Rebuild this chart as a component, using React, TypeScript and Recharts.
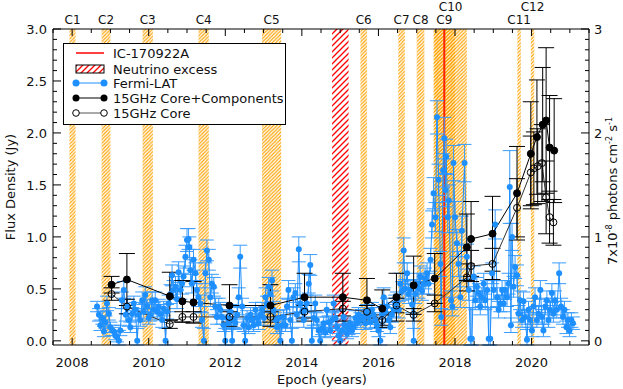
import React from "react"
import { ComposedChart, Line, XAxis, YAxis, ErrorBar, ReferenceArea, ReferenceLine } from "recharts"

const FONT = "'DejaVu Sans', 'Liberation Sans', sans-serif"
const BLUE = "#1e8fff"
const ORANGE = "#ffa200"
const Y_MIN = -0.04

// Fermi-LAT light curve: [epoch, flux (7e-8 ph cm^-2 s^-1), error]
const fermiRaw: [number, number, number][] = [
  [2008.65, 0.33, 0.05], [2008.70, 0.25, 0.06], [2008.74, 0.15, 0.05], [2008.79, 0.22, 0.06],
  [2008.83, 0.09, 0.05], [2008.87, 0.18, 0.06], [2008.91, 0.36, 0.07], [2008.96, 0.26, 0.06],
  [2009.00, 0.13, 0.05], [2009.05, 0.10, 0.05], [2009.09, 0.09, 0.04], [2009.13, 0.05, 0.04],
  [2009.17, 0.04, 0.05], [2009.22, 0.00, 0.10], [2009.26, 0.10, 0.05], [2009.30, 0.39, 0.08],
  [2009.35, 0.49, 0.08], [2009.40, 0.25, 0.06], [2009.44, 0.33, 0.07], [2009.48, 0.20, 0.06],
  [2009.52, 0.13, 0.05], [2009.57, 0.26, 0.06], [2009.61, 0.36, 0.07], [2009.65, 0.30, 0.07],
  [2009.70, 0.00, 0.12], [2009.74, 0.25, 0.06], [2009.78, 0.20, 0.06], [2009.83, 0.39, 0.08],
  [2009.87, 0.28, 0.07], [2009.91, 0.44, 0.08], [2009.96, 0.33, 0.07], [2010.00, 0.22, 0.06],
  [2010.04, 0.25, 0.06], [2010.09, 0.39, 0.08], [2010.13, 0.30, 0.07], [2010.17, 0.39, 0.08],
  [2010.22, 0.28, 0.07], [2010.26, 0.33, 0.07], [2010.30, 0.26, 0.06], [2010.35, 0.20, 0.07],
  [2010.39, 0.31, 0.07], [2010.44, 0.00, 0.12], [2010.48, 0.28, 0.07], [2010.52, 0.36, 0.08],
  [2010.57, 0.45, 0.09], [2010.61, 0.63, 0.10], [2010.65, 0.49, 0.09], [2010.70, 0.52, 0.10],
  [2010.74, 0.40, 0.09], [2010.78, 0.66, 0.10], [2010.83, 0.49, 0.09], [2010.87, 0.55, 0.10],
  [2010.91, 0.62, 0.10], [2010.96, 0.81, 0.11], [2011.00, 0.97, 0.11], [2011.04, 0.98, 0.10],
  [2011.06, 0.90, 0.10], [2011.09, 0.68, 0.10], [2011.13, 0.55, 0.09], [2011.17, 0.78, 0.10],
  [2011.22, 0.65, 0.10], [2011.26, 0.49, 0.09], [2011.30, 0.42, 0.09], [2011.35, 0.36, 0.08],
  [2011.39, 0.20, 0.07], [2011.44, 0.00, 0.12], [2011.48, 0.65, 0.10], [2011.52, 0.87, 0.10],
  [2011.57, 0.78, 0.10], [2011.61, 0.42, 0.09], [2011.65, 0.55, 0.09], [2011.70, 0.52, 0.09],
  [2011.74, 0.33, 0.08], [2011.78, 0.23, 0.07], [2011.83, 0.33, 0.08], [2011.87, 0.30, 0.07],
  [2011.91, 0.23, 0.07], [2011.96, 0.15, 0.06], [2012.00, 0.00, 0.12], [2012.05, 0.22, 0.07],
  [2012.09, 0.17, 0.06], [2012.13, 0.28, 0.07], [2012.18, 0.00, 0.12], [2012.22, 0.20, 0.07],
  [2012.26, 0.17, 0.06], [2012.31, 0.25, 0.07], [2012.35, 0.42, 0.09], [2012.39, 0.81, 0.11],
  [2012.44, 0.33, 0.08], [2012.48, 0.15, 0.06], [2012.52, 0.00, 0.12], [2012.57, 0.22, 0.07],
  [2012.61, 0.13, 0.06], [2012.66, 0.25, 0.07], [2012.70, 0.20, 0.06], [2012.74, 0.15, 0.06],
  [2012.79, 0.30, 0.07], [2012.83, 0.22, 0.07], [2012.87, 0.17, 0.06], [2012.92, 0.25, 0.07],
  [2012.96, 0.30, 0.07], [2013.01, 0.22, 0.07], [2013.05, 0.42, 0.09], [2013.09, 0.35, 0.08],
  [2013.13, 0.52, 0.09], [2013.18, 0.45, 0.09], [2013.22, 0.58, 0.10], [2013.26, 0.30, 0.08],
  [2013.31, 0.20, 0.07], [2013.35, 0.13, 0.06], [2013.39, 0.22, 0.07], [2013.44, 0.00, 0.12],
  [2013.48, 0.15, 0.06], [2013.52, 0.23, 0.07], [2013.57, 0.15, 0.06], [2013.61, 0.33, 0.08],
  [2013.65, 0.49, 0.09], [2013.70, 0.20, 0.07], [2013.74, 0.00, 0.12], [2013.78, 0.42, 0.09],
  [2013.83, 0.46, 0.09], [2013.87, 0.25, 0.07], [2013.92, 0.88, 0.12], [2013.96, 0.36, 0.08],
  [2014.01, 0.28, 0.07], [2014.05, 0.20, 0.07], [2014.09, 0.30, 0.07], [2014.13, 0.36, 0.08],
  [2014.18, 0.55, 0.09], [2014.22, 0.73, 0.10], [2014.26, 0.00, 0.12], [2014.31, 0.22, 0.07],
  [2014.35, 0.36, 0.08], [2014.39, 0.20, 0.07], [2014.44, 0.10, 0.06], [2014.48, 0.00, 0.12],
  [2014.53, 0.12, 0.06], [2014.57, 0.17, 0.06], [2014.61, 0.08, 0.05], [2014.65, 0.30, 0.07],
  [2014.70, 0.18, 0.06], [2014.74, 0.10, 0.06], [2014.79, 0.20, 0.07], [2014.83, 0.36, 0.08],
  [2014.88, 0.22, 0.07], [2014.92, 0.13, 0.06], [2014.96, 0.05, 0.05], [2015.00, 0.00, 0.12],
  [2015.05, 0.10, 0.06], [2015.09, 0.23, 0.07], [2015.13, 0.15, 0.06], [2015.18, 0.07, 0.05],
  [2015.22, 0.12, 0.06], [2015.26, 0.17, 0.06], [2015.31, 0.10, 0.06], [2015.35, 0.13, 0.06],
  [2015.40, 0.22, 0.07], [2015.44, 0.17, 0.06], [2015.48, 0.25, 0.07], [2015.53, 0.20, 0.07],
  [2015.57, 0.23, 0.07], [2015.61, 0.23, 0.07], [2015.66, 0.17, 0.06], [2015.70, 0.28, 0.07],
  [2015.74, 0.23, 0.07], [2015.79, 0.18, 0.06], [2015.83, 0.30, 0.07], [2015.87, 0.25, 0.07],
  [2015.92, 0.20, 0.07], [2015.96, 0.15, 0.06], [2016.00, 0.10, 0.06], [2016.05, 0.00, 0.12],
  [2016.09, 0.25, 0.07], [2016.14, 0.42, 0.09], [2016.18, 0.28, 0.07], [2016.22, 0.33, 0.08],
  [2016.27, 0.20, 0.07], [2016.31, 0.13, 0.06], [2016.35, 0.25, 0.07], [2016.40, 0.30, 0.07],
  [2016.44, 0.36, 0.08], [2016.48, 0.39, 0.08], [2016.53, 0.30, 0.08], [2016.57, 0.55, 0.10],
  [2016.62, 0.48, 0.09], [2016.66, 0.87, 0.12], [2016.70, 0.50, 0.09], [2016.75, 0.65, 0.10],
  [2016.79, 0.45, 0.09], [2016.83, 0.49, 0.09], [2016.88, 0.35, 0.08], [2016.92, 0.00, 0.12],
  [2016.96, 0.45, 0.09], [2017.01, 0.55, 0.10], [2017.05, 0.50, 0.09], [2017.09, 0.62, 0.10],
  [2017.14, 0.48, 0.09], [2017.18, 0.55, 0.10], [2017.22, 0.60, 0.10], [2017.27, 0.65, 0.10],
  [2017.31, 0.55, 0.10], [2017.36, 0.78, 0.11], [2017.40, 1.12, 0.13], [2017.44, 1.42, 0.15],
  [2017.49, 1.19, 0.14], [2017.53, 2.15, 0.16], [2017.57, 1.55, 0.15], [2017.62, 0.74, 0.12],
  [2017.64, 0.23, 0.08], [2017.69, 1.64, 0.16], [2017.72, 1.95, 0.20], [2017.75, 1.45, 0.16],
  [2017.77, 1.77, 0.17], [2017.81, 1.19, 0.15], [2017.84, 1.35, 0.15], [2017.90, 0.39, 0.09],
  [2017.93, 0.33, 0.09], [2017.96, 1.71, 0.17], [2018.00, 1.19, 0.15], [2018.05, 0.94, 0.13],
  [2018.09, 0.74, 0.12], [2018.14, 0.42, 0.10], [2018.18, 1.06, 0.14], [2018.25, 1.71, 0.18],
  [2018.31, 0.81, 0.12], [2018.36, 0.49, 0.10], [2018.40, 0.02, 0.30], [2018.44, 0.02, 0.30],
  [2018.49, 0.62, 0.10], [2018.53, 0.39, 0.09], [2018.57, 0.52, 0.09], [2018.62, 0.46, 0.09],
  [2018.66, 0.33, 0.08], [2018.70, 0.42, 0.09], [2018.75, 0.55, 0.10], [2018.79, 0.39, 0.09],
  [2018.84, 0.49, 0.09], [2018.88, 0.02, 0.30], [2018.92, 0.02, 0.30], [2018.97, 0.65, 0.10],
  [2019.01, 0.49, 0.09], [2019.05, 1.12, 0.14], [2019.10, 0.42, 0.09], [2019.14, 0.30, 0.08],
  [2019.18, 0.36, 0.08], [2019.23, 0.49, 0.09], [2019.27, 0.36, 0.08], [2019.31, 0.49, 0.09],
  [2019.36, 0.42, 0.09], [2019.40, 0.55, 0.10], [2019.43, 1.48, 0.35], [2019.46, 0.15, 0.07],
  [2019.49, 1.00, 0.13], [2019.53, 0.52, 0.10], [2019.57, 0.71, 0.11], [2019.62, 0.63, 0.10],
  [2019.66, 0.26, 0.08], [2019.70, 0.39, 0.09], [2019.75, 0.20, 0.07], [2019.79, 0.38, 0.09],
  [2019.83, 0.23, 0.07], [2019.88, 0.01, 0.10], [2019.92, 0.30, 0.08], [2019.96, 0.20, 0.07],
  [2020.01, 0.10, 0.06], [2020.05, 0.33, 0.08], [2020.09, 0.42, 0.09], [2020.14, 0.20, 0.07],
  [2020.18, 0.26, 0.08], [2020.23, 0.49, 0.09], [2020.27, 0.23, 0.07], [2020.31, 0.10, 0.06],
  [2020.36, 0.33, 0.08], [2020.40, 0.39, 0.09], [2020.44, 0.20, 0.07], [2020.48, 0.30, 0.08],
  [2020.53, 0.46, 0.09], [2020.57, 0.26, 0.08], [2020.61, 0.39, 0.09], [2020.66, 0.30, 0.08],
  [2020.72, 0.65, 0.10], [2020.77, 0.33, 0.08], [2020.82, 0.23, 0.07], [2020.86, 0.30, 0.08],
  [2020.91, 0.13, 0.06], [2020.95, 0.20, 0.07], [2020.99, 0.10, 0.06], [2021.04, 0.20, 0.07],
  [2021.08, 0.17, 0.06],
]

// 15 GHz core + components: [epoch, Jy, error]
const coreCompRaw: [number, number, number][] = [
  [2009.03, 0.54, 0.08], [2009.43, 0.59, 0.25], [2010.55, 0.43, 0.23], [2010.88, 0.38, 0.20],
  [2011.17, 0.37, 0.20], [2012.11, 0.34, 0.20], [2013.18, 0.34, 0.20], [2014.07, 0.42, 0.23],
  [2015.07, 0.42, 0.23], [2015.70, 0.39, 0.21], [2016.10, 0.31, 0.18], [2016.47, 0.42, 0.23],
  [2016.92, 0.535, 0.28], [2017.47, 0.60, 0.24], [2018.31, 0.90, 0.32], [2018.42, 0.98, 0.36],
  [2018.98, 1.03, 0.36], [2019.62, 1.42, 0.45], [2019.98, 1.80, 0.50], [2020.14, 1.96, 0.55],
  [2020.29, 2.08, 0.55], [2020.38, 2.12, 0.70], [2020.47, 1.86, 0.50], [2020.59, 1.83, 0.50],
]

// 15 GHz core only: [epoch, Jy, error]
const coreRaw: [number, number, number][] = [
  [2009.03, 0.45, 0.06], [2009.43, 0.33, 0.07], [2010.55, 0.16, 0.04], [2010.88, 0.23, 0.05],
  [2011.17, 0.23, 0.05], [2012.11, 0.23, 0.05], [2013.18, 0.23, 0.05], [2014.07, 0.28, 0.06],
  [2015.07, 0.31, 0.07], [2015.70, 0.28, 0.06], [2016.10, 0.20, 0.05], [2016.47, 0.34, 0.07],
  [2016.92, 0.25, 0.06], [2017.47, 0.36, 0.08], [2018.31, 0.61, 0.13], [2018.42, 0.72, 0.15],
  [2018.98, 0.74, 0.15], [2019.62, 1.28, 0.28], [2019.98, 1.62, 0.35], [2020.06, 1.66, 0.35],
  [2020.16, 1.68, 0.36], [2020.27, 1.71, 0.37], [2020.38, 1.38, 0.35], [2020.47, 1.19, 0.25],
  [2020.57, 1.14, 0.22],
]

// ejection epochs of the jet components (hatched bands)
const bands = [
  { name: "C1", x1: 2007.93, x2: 2008.09, raised: false },
  { name: "C2", x1: 2008.77, x2: 2009.0, raised: false },
  { name: "C3", x1: 2009.84, x2: 2010.11, raised: false },
  { name: "C4", x1: 2011.3, x2: 2011.57, raised: false },
  { name: "C5", x1: 2012.96, x2: 2013.46, raised: false },
  { name: "C6", x1: 2015.53, x2: 2015.7, raised: false },
  { name: "C7", x1: 2016.52, x2: 2016.69, raised: false },
  { name: "C8", x1: 2017.0, x2: 2017.2, raised: false },
  { name: "C9", x1: 2017.44, x2: 2018.0, raised: false },
  { name: "C10", x1: 2017.46, x2: 2018.31, raised: true },
  { name: "C11", x1: 2019.63, x2: 2019.72, raised: false },
  { name: "C12", x1: 2019.98, x2: 2020.07, raised: true },
]
const neutrinoExcess = [2014.79, 2015.22]
const icEvent = 2017.72

const xMajor = [2008, 2010, 2012, 2014, 2016, 2018, 2020]
const xTicks = Array.from({ length: 29 }, (_, i) => 2007.5 + i * 0.5)
const yTicks = Array.from({ length: 31 }, (_, i) => i / 10)

// lower half of each error bar stops at the bottom of the frame, like the original plot
const toPoints = (rows: [number, number, number][]) =>
  rows.map(([x, y, e]) => ({ x, y, err: [Math.min(e, y - Y_MIN), e] }))

const fermi = toPoints(fermiRaw)
const coreComp = toPoints(coreCompRaw)
const core = toPoints(coreRaw)

const isMajorX = (v: number) => xMajor.includes(v)
const isMajorLeft = (v: number) => Math.round(v * 10) % 5 === 0
const isMajorRight = (v: number) => Math.round(v * 10) % 10 === 0

const txt = { fontFamily: FONT, fontSize: 13, fill: "#111" }

const BottomTick = ({ x, y, payload }: any) => {
  const major = isMajorX(payload.value)
  return (
    <g>
      <line x1={x} x2={x} y1={y} y2={y - (major ? 7 : 4)} stroke="#000" />
      {major && (
        <text x={x} y={y + 22} textAnchor="middle" {...txt}>
          {payload.value}
        </text>
      )}
    </g>
  )
}

const TopTick = ({ x, y, payload }: any) => {
  const major = isMajorX(payload.value)
  return <line x1={x} x2={x} y1={y} y2={y + (major ? 7 : 4)} stroke="#000" />
}

const LeftTick = ({ x, y, payload }: any) => {
  const major = isMajorLeft(payload.value)
  return (
    <g>
      <line x1={x} x2={x + (major ? 8 : 4)} y1={y} y2={y} stroke="#000" />
      {major && (
        <text x={x - 6} y={y + 5} textAnchor="end" {...txt}>
          {payload.value.toFixed(1)}
        </text>
      )}
    </g>
  )
}

const RightTick = ({ x, y, payload }: any) => {
  const major = isMajorRight(payload.value)
  return (
    <g>
      <line x1={x} x2={x - (major ? 8 : 4)} y1={y} y2={y} stroke="#000" />
      {major && (
        <text x={x + 5} y={y + 5} textAnchor="start" {...txt}>
          {Math.round(payload.value)}
        </text>
      )}
    </g>
  )
}

const bandLabel = (name: string, raised: boolean) => (props: any) => {
  const vb = props.viewBox || {}
  return (
    <text x={vb.x + vb.width / 2} y={vb.y - (raised ? 18 : 5.5)} textAnchor="middle" fontFamily={FONT} fontSize={12} fill="#111">
      {name}
    </text>
  )
}

const leftTitle = () => (
  <text x={14.5} y={187} transform="rotate(-90 14.5 187)" textAnchor="middle" {...txt}>
    Flux Density (Jy)
  </text>
)

const rightTitle = () => (
  <text x={617} y={191} transform="rotate(-90 617 191)" textAnchor="middle" {...txt}>
    7x10
    <tspan dy={-5} fontSize={8}>-8</tspan>
    <tspan dy={5}> photons cm</tspan>
    <tspan dy={-5} fontSize={8}>-2</tspan>
    <tspan dy={5}> s</tspan>
    <tspan dy={-5} fontSize={8}>-1</tspan>
  </text>
)

const bottomTitle = () => (
  <text x={322} y={384} textAnchor="middle" {...txt}>
    Epoch (years)
  </text>
)

function ChartLegend() {
  const rows = [10, 26, 40, 55, 70]
  return (
    <svg width={223} height={82} style={{ position: "absolute", left: 63, top: 43 }}>
      <defs>
        <pattern id="legendRed" width={6} height={6} patternUnits="userSpaceOnUse">
          <path d="M-1,1 l2,-2 M0,6 l6,-6 M5,7 l2,-2" stroke="#ff0000" strokeWidth={1.3} />
        </pattern>
      </defs>
      <rect x={0.5} y={0.5} width={222} height={81} fill="#fff" stroke="#000" />
      <line x1={13} x2={41} y1={rows[0]} y2={rows[0]} stroke="#ff0000" strokeWidth={1.5} />
      <rect x={13} y={rows[1] - 4} width={28} height={8} fill="url(#legendRed)" stroke="#000" />
      <line x1={13} x2={41} y1={rows[2]} y2={rows[2]} stroke={BLUE} />
      <circle cx={13} cy={rows[2]} r={3.5} fill={BLUE} />
      <circle cx={41} cy={rows[2]} r={3.5} fill={BLUE} />
      <line x1={13} x2={41} y1={rows[3]} y2={rows[3]} stroke="#000" />
      <circle cx={13} cy={rows[3]} r={3.5} fill="#000" />
      <circle cx={41} cy={rows[3]} r={3.5} fill="#000" />
      <line x1={13} x2={41} y1={rows[4]} y2={rows[4]} stroke="#555" />
      <circle cx={13} cy={rows[4]} r={3.3} fill="#fff" stroke="#000" />
      <circle cx={41} cy={rows[4]} r={3.3} fill="#fff" stroke="#000" />
      {["IC-170922A", "Neutrino excess", "Fermi-LAT", "15GHz Core+Components", "15GHz Core"].map((t, i) => (
        <text key={t} x={50} y={rows[i] + 5} {...txt}>
          {t}
        </text>
      ))}
    </svg>
  )
}

export default function App() {
  return (
    <div style={{ position: "absolute", left: 0, top: 0, width: 623, height: 389, background: "#fff" }}>
      <ComposedChart width={623} height={389} margin={{ top: 0, right: 0, bottom: 0, left: 0 }}>
        <defs>
          <pattern id="hatchOrange" width={3.5} height={3.5} patternUnits="userSpaceOnUse">
            <path d="M-0.875,0.875 l1.75,-1.75 M0,3.5 l3.5,-3.5 M2.625,4.375 l1.75,-1.75" stroke={ORANGE} strokeWidth={1.1} />
          </pattern>
          <pattern id="hatchRed" width={6} height={6} patternUnits="userSpaceOnUse">
            <path d="M-1,1 l2,-2 M0,6 l6,-6 M5,7 l2,-2" stroke="#ff0000" strokeWidth={1.3} />
          </pattern>
        </defs>
        <XAxis
          xAxisId="bottom"
          dataKey="x"
          type="number"
          domain={[2007.5, 2021.5]}
          ticks={xTicks}
          interval={0}
          height={44}
          tickSize={0}
          tickMargin={0}
          tickLine={false}
          tick={BottomTick}
          axisLine={{ stroke: "#000" }}
          allowDataOverflow
          label={bottomTitle}
        />
        <XAxis
          xAxisId="top"
          orientation="top"
          dataKey="x"
          type="number"
          domain={[2007.5, 2021.5]}
          ticks={xTicks}
          interval={0}
          height={29}
          tickSize={0}
          tickMargin={0}
          tickLine={false}
          tick={TopTick}
          axisLine={{ stroke: "#000" }}
          allowDataOverflow
        />
        <YAxis
          yAxisId="left"
          type="number"
          domain={[Y_MIN, 3]}
          ticks={yTicks}
          interval={0}
          width={53}
          tickSize={0}
          tickMargin={0}
          tickLine={false}
          tick={LeftTick}
          axisLine={{ stroke: "#000" }}
          allowDataOverflow
          label={leftTitle}
        />
        <YAxis
          yAxisId="right"
          orientation="right"
          type="number"
          domain={[Y_MIN, 3]}
          ticks={yTicks}
          interval={0}
          width={34}
          tickSize={0}
          tickMargin={0}
          tickLine={false}
          tick={RightTick}
          axisLine={{ stroke: "#000" }}
          allowDataOverflow
          label={rightTitle}
        />

        {bands.map((b) => (
          <ReferenceArea
            key={b.name}
            xAxisId="bottom"
            yAxisId="left"
            x1={b.x1}
            x2={b.x2}
            fill="url(#hatchOrange)"
            fillOpacity={1}
            stroke="none"
            label={bandLabel(b.name, b.raised)}
          />
        ))}
        <ReferenceArea
          xAxisId="bottom"
          yAxisId="left"
          x1={neutrinoExcess[0]}
          x2={neutrinoExcess[1]}
          fill="url(#hatchRed)"
          fillOpacity={1}
          stroke="none"
        />
        <ReferenceLine xAxisId="bottom" yAxisId="left" x={icEvent} stroke="#ff2200" strokeWidth={2} />

        <Line
          data={fermi}
          xAxisId="bottom"
          yAxisId="right"
          dataKey="y"
          stroke={BLUE}
          strokeWidth={1}
          dot={{ r: 3, fill: BLUE, stroke: "none" }}
          activeDot={false}
          isAnimationActive={false}
        >
          <ErrorBar dataKey="err" direction="y" width={7} stroke="#3a9cff" strokeWidth={1} />
        </Line>
        <Line
          data={core}
          xAxisId="bottom"
          yAxisId="left"
          dataKey="y"
          stroke="#333"
          strokeWidth={1}
          dot={{ r: 3.5, fill: "none", stroke: "#000", strokeWidth: 1 }}
          activeDot={false}
          isAnimationActive={false}
        >
          <ErrorBar dataKey="err" direction="y" width={8} stroke="#000" strokeWidth={1} />
        </Line>
        <Line
          data={coreComp}
          xAxisId="bottom"
          yAxisId="left"
          dataKey="y"
          stroke="#000"
          strokeWidth={1}
          dot={{ r: 3.5, fill: "#000", stroke: "#000" }}
          activeDot={false}
          isAnimationActive={false}
        >
          <ErrorBar dataKey="err" direction="y" width={8} stroke="#000" strokeWidth={1} />
        </Line>
      </ComposedChart>
      <ChartLegend />
    </div>
  )
}
